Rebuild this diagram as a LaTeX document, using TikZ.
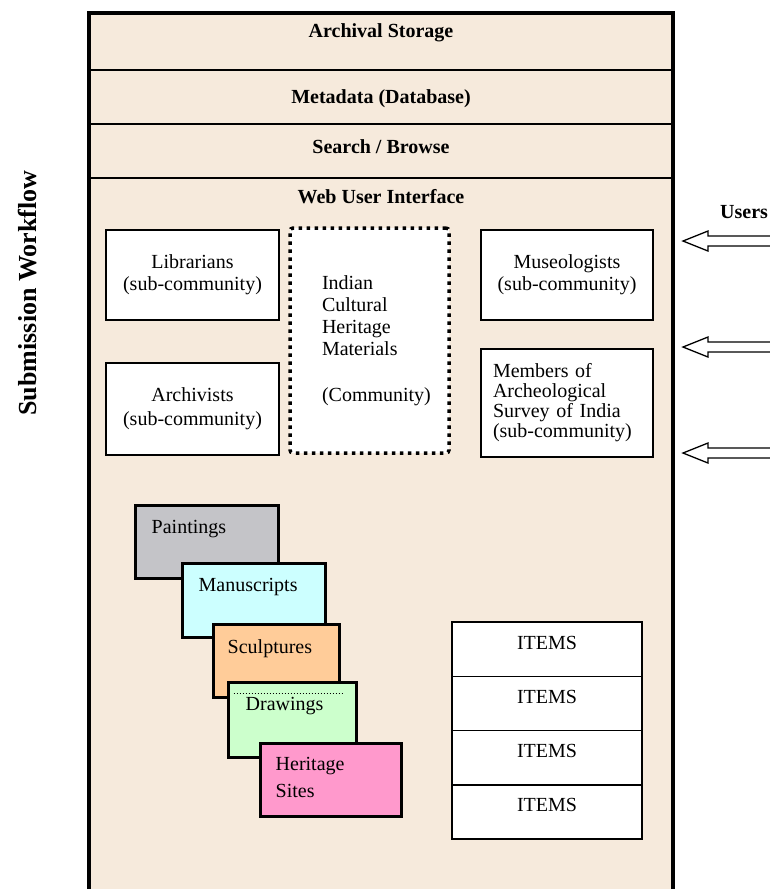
\documentclass[tikz,border=0pt]{standalone}
\usepackage{fontspec}
\setmainfont{Liberation Serif}
\definecolor{repofill}{HTML}{F6EADC}
\definecolor{paintgray}{HTML}{C4C4C8}
\definecolor{manucyan}{HTML}{CCFFFF}
\definecolor{sculporange}{HTML}{FFCC99}
\definecolor{drawgreen}{HTML}{CCFFCC}
\definecolor{heritpink}{HTML}{FF99CC}
\tikzset{
    band/.style = {inner sep = 0pt, font = \fontsize{20}{22}\selectfont\bfseries},
    group/.style = {draw, line width = 1.5pt, fill = white, align = center, inner sep = 0pt,
        font = \fontsize{20}{22}\selectfont},
    community/.style = {draw, line width = 3.5pt, dash pattern = on 3.5pt off 4.5pt, rounded corners = 3pt,
        fill = white, minimum width = 159, minimum height = 225, text width = 95pt, align = left,
        inner sep = 0pt, font = \fontsize{20}{22}\selectfont},
    kind/.style = {draw, line width = 3pt, inner sep = 0pt},
    kindtext/.style = {anchor = west, inner sep = 0pt, align = left, font = \fontsize{20}{27}\selectfont},
    item/.style = {draw, line width = 1.5pt, fill = white, minimum width = 190, inner sep = 0pt,
        text height = 27pt, text depth = 27.25pt, font = \fontsize{20}{22}\selectfont},
    hollow/.style = {line width = 1.3pt, fill = white, line join = miter}
}
\begin{document}
\begin{tikzpicture}[x = 1pt, y = -1pt]
    \useasboundingbox (0, 0) rectangle (769, 889);

    \fill[repofill] (89, 13) rectangle (673, 889);
    \draw[line width = 4pt] (89, 889) -- (89, 13) -- (673, 13) -- (673, 889);
    \foreach \y in {70, 124, 178}
        \draw[line width = 1.8pt] (89, \y) -- (673, \y);

    \node[band] (as) at (381, 33) {Archival Storage};
    \node[band] (md) at (381, 99) {Metadata (Database)};
    \node[band] (sb) at (381, 147) {Search / Browse};
    \node[band] (wui) at (381, 197) {Web User Interface};

    \node[rotate = 90, inner sep = 0pt, font = \fontsize{26}{26}\selectfont\bfseries] (sw) at (28, 293) {Submission Workflow};

    \node[group, minimum width = 173, minimum height = 90] (lib) at (192.5, 275) {Librarians\\(sub-community)};
    \node[group, minimum width = 173, minimum height = 92] (arc) at (192.5, 409) {Archivists\\[2pt](sub-community)};
    \node[community] (icm) at (369.5, 340.5) {Indian\\Cultural\\Heritage\\Materials\\[24pt](Community)};
    \node[group, minimum width = 172, minimum height = 90] (mus) at (567, 275) {Museologists\\(sub-community)};
    \node[group, minimum width = 172, minimum height = 108, text width = 148pt, align = left,
        font = \fontsize{20}{20}\selectfont] (asi) at (567, 403) {Members of\\Archeological\\Survey of India\\(sub-community)};

    \node[band, anchor = west] (users) at (720, 212) {Users};
    \coordinate (u1) at (683, 241);
    \coordinate (u2) at (683, 347);
    \coordinate (u3) at (683, 453);
    \foreach \i in {1, 2, 3}
        \draw[hollow] ([shift = {(90, -5)}]u\i) -- ++(-65, 0) -- ++(0, -5) -- (u\i) -- ++(25, 10) -- ++(0, -5) -- ++(65, 0);

    \node[kind, fill = paintgray, minimum width = 143, minimum height = 73] (pnt) at (206.5, 541.5) {};
    \node[kindtext] (pntl) at ([shift = {(18, 26)}]pnt.north west) {Paintings};
    \node[kind, fill = manucyan, minimum width = 143, minimum height = 74] (man) at (253.5, 600) {};
    \node[kindtext] (manl) at ([shift = {(18, 25)}]man.north west) {Manuscripts};
    \node[kind, fill = sculporange, minimum width = 126, minimum height = 73] (scu) at (276, 660.5) {};
    \node[kindtext] (scul) at ([shift = {(16, 26)}]scu.north west) {Sculptures};
    \node[kind, fill = drawgreen, minimum width = 128, minimum height = 75] (drw) at (292, 719.5) {};
    \draw[dotted, line width = 1pt] ([shift = {(7, 13)}]drw.north west) -- ([shift = {(-14, 13)}]drw.north east);
    \node[kindtext] (drwl) at ([shift = {(19, 26)}]drw.north west) {Drawings};
    \node[kind, fill = heritpink, minimum width = 141, minimum height = 73] (her) at (330.5, 779.5) {};
    \node[kindtext] (herl) at ([shift = {(17, 36)}]her.north west) {Heritage\\Sites};

    \foreach \i in {1, ..., 4}
        \node[item] (it\i) at (547, 622 + 27.125 + 54.25 * \i - 54.25) {ITEMS};
\end{tikzpicture}
\end{document}
